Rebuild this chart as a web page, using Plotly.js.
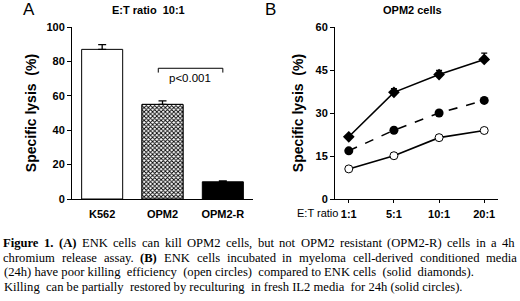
<!DOCTYPE html>
<html><head><meta charset="utf-8">
<script src="https://cdn.plot.ly/plotly-3.0.1.min.js"></script>
<style>html,body{margin:0;padding:0;background:#fff}#c{width:520px;height:301px}</style>
</head><body><div id="c"></div>
<script>
// Panel A data
const catsA = ["K562", "OPM2", "OPM2-R"];
const lysisA = [87, 55, 10];
const errA = [2.7, 2, 0.5];
// Panel B data
const ratiosB = ["1:1", "5:1", "10:1", "20:1"];
const enkDiamonds = [21.7, 37.2, 43.4, 48.7];
const enkDiamondsErr = [0.6, 1.3, 1.5, 2.2];
const reculturedCircles = [16.8, 24, 30, 34.4];
const conditionedOpen = [10.5, 15.1, 21.4, 23.9];
const captionLines = [
  "**Figure 1. (A)** ENK cells can kill OPM2 cells, but not OPM2 resistant (OPM2-R) cells in a 4h",
  "chromium release assay. **(B)** ENK cells incubated in myeloma cell-derived conditioned media",
  "(24h) have poor killing  efficiency  (open circles)  compared to ENK cells  (solid  diamonds).",
  "Killing  can be partially  restored by reculturing  in fresh IL2 media  for 24h (solid circles)."
];

const F = "Liberation Sans, Arial, sans-serif";
const SERIF = "Liberation Serif, Times New Roman, serif";
const CAP_SIZE = 12.6;
const fix = s => s.replace(/  /g, " \u00A0");

const cv = document.createElement("canvas").getContext("2d");
function measure(t, bold) {
  cv.font = (bold ? "bold " : "") + CAP_SIZE + "px 'Liberation Serif'";
  return cv.measureText(t).width;
}
function captionAnnots(line, i) {
  const y = 1 - (243 + i * 14.7) / 301;
  const font = {family: SERIF, size: CAP_SIZE, color: "#000"};
  if (i >= 2) {
    return [{text: fix(line), xref: "paper", yref: "paper", x: 2/520, y: y, xanchor: "left", yanchor: "middle", showarrow: false, font: font}];
  }
  // justified line: place words spread over the full width
  const words = [];
  let bold = false;
  line.split(" ").forEach(w => {
    let b = bold;
    if (w.startsWith("**")) { w = w.slice(2); b = true; bold = true; }
    if (w.endsWith("**")) { w = w.slice(0, -2); bold = false; }
    words.push({t: w, b: b});
  });
  const left = 3, right = i === 0 ? 515 : 517;
  const total = words.reduce((s, w) => s + measure(w.t, w.b), 0);
  const gap = (right - left - total) / (words.length - 1);
  let x = left;
  return words.map(w => {
    const a = {text: w.b ? "<b>" + w.t + "</b>" : w.t, xref: "paper", yref: "paper", x: (x - 1) / 520, y: y,
               xanchor: "left", yanchor: "middle", showarrow: false, borderpad: 0, font: font};
    x += measure(w.t, w.b) + gap;
    return a;
  });
}

const barBase = {type: "bar", x: catsA, y: lysisA, xaxis: "x", yaxis: "y", width: 0.68, showlegend: false, hoverinfo: "none"};
const traces = [
  Object.assign({}, barBase, {
   marker: {color: ["#ffffff", "rgba(0,0,0,0)", "#000000"], line: {color: "#000", width: 1}},
   error_y: {type: "data", symmetric: false, array: errA, arrayminus: [0,0,0], color: "#000", thickness: 1.3, width: 4}}),
  {type: "bar", x: [catsA[1]], y: [lysisA[1]], xaxis: "x", yaxis: "y", width: 0.68, showlegend: false, hoverinfo: "none",
   marker: {color: "#ffffff", line: {color: "#000", width: 1},
            pattern: {shape: "x", size: 3, solidity: 0.5, fgcolor: "#000", bgcolor: "#ffffff", fillmode: "replace"}}},
  {type: "scatter", mode: "lines+markers", x: ratiosB, y: enkDiamonds, xaxis: "x2", yaxis: "y2",
   line: {color: "#000", width: 1.6}, marker: {symbol: "diamond", size: 9, color: "#000"},
   error_y: {type: "data", symmetric: false, array: enkDiamondsErr, arrayminus: [0,0,0,0], color: "#000", thickness: 1.2, width: 3},
   showlegend: false},
  {type: "scatter", mode: "lines+markers", x: ratiosB, y: reculturedCircles, xaxis: "x2", yaxis: "y2",
   line: {color: "#000", width: 1.6, dash: "dash"}, marker: {symbol: "circle", size: 9, color: "#000"}, showlegend: false},
  {type: "scatter", mode: "lines+markers", x: ratiosB, y: conditionedOpen, xaxis: "x2", yaxis: "y2",
   line: {color: "#000", width: 1.6}, marker: {symbol: "circle", size: 8, color: "#fff", line: {color: "#000", width: 1}}, showlegend: false}
];

const yDom = [(301 - 199) / 301, (301 - 27) / 301];
const axTick = {family: F, size: 11, color: "#000", weight: "bold"};
const yTitleFont = {family: F, size: 14, color: "#000", weight: "bold"};
const layout = {
  width: 520, height: 301, margin: {l: 0, r: 0, t: 0, b: 0},
  paper_bgcolor: "#fff", plot_bgcolor: "#fff", barmode: "overlay",
  xaxis: {domain: [72/520, 253/520], anchor: "y", showline: true, linecolor: "#000", linewidth: 1,
          ticks: "", ticklabelstandoff: 5, tickfont: axTick, showgrid: false, zeroline: false, fixedrange: true},
  yaxis: {domain: yDom, anchor: "x", range: [0, 100], tickvals: [0,20,40,60,80,100], showline: true,
          linecolor: "#000", linewidth: 1, ticks: "outside", ticklen: 4, tickcolor: "#000",
          tickfont: axTick, showgrid: false, zeroline: false,
          title: {text: "Specific lysis  (%)", font: yTitleFont, standoff: 6}},
  xaxis2: {domain: [335/520, 498/520], anchor: "y2", showline: true, linecolor: "#000", linewidth: 1,
           ticks: "outside", ticklen: 3, tickcolor: "#000", ticklabelstandoff: 2, tickfont: axTick, showgrid: false, zeroline: false},
  yaxis2: {domain: yDom, anchor: "x2", range: [0, 60], tickvals: [0,15,30,45,60], showline: true,
           linecolor: "#000", linewidth: 1, ticks: "outside", ticklen: 4, tickcolor: "#000",
           tickfont: axTick, showgrid: false, zeroline: false,
           title: {text: "Specific lysis  (%)", font: yTitleFont, standoff: 8}},
  shapes: [
    {type: "path", xref: "x", yref: "y", path: "M 0.93,73.5 L 0.93,76 L 2,76 L 2,73.5", line: {color: "#000", width: 1}}
  ],
  annotations: [
    {text: "A", xref: "paper", yref: "paper", x: 21/520, y: 1 - 10/301, xanchor: "left", yanchor: "middle", showarrow: false, font: {family: F, size: 17, color: "#000"}},
    {text: "E:T ratio \u00A010:1", xref: "paper", yref: "paper", x: 148/520, y: 1 - 10/301, xanchor: "center", yanchor: "middle", showarrow: false, font: {family: F, size: 11, color: "#000", weight: "bold"}},
    {text: "B", xref: "paper", yref: "paper", x: 263/520, y: 1 - 10/301, xanchor: "left", yanchor: "middle", showarrow: false, font: {family: F, size: 17, color: "#000"}},
    {text: "OPM2 cells", xref: "paper", yref: "paper", x: 412/520, y: 1 - 10/301, xanchor: "center", yanchor: "middle", showarrow: false, font: {family: F, size: 11, color: "#000", weight: "bold"}},
    {text: "p<0.001", xref: "x", yref: "y", x: 1.46, y: 70.5, xanchor: "center", yanchor: "middle", showarrow: false, font: {family: F, size: 11.5, color: "#000"}},
    {text: "E:T ratio", xref: "paper", yref: "paper", x: 317/520, y: 1 - 213/301, xanchor: "center", yanchor: "middle", showarrow: false, font: {family: F, size: 11, color: "#000"}}
  ].concat(...captionLines.map(captionAnnots))
};
Plotly.newPlot("c", traces, layout, {displayModeBar: false, staticPlot: true});
</script></body></html>
